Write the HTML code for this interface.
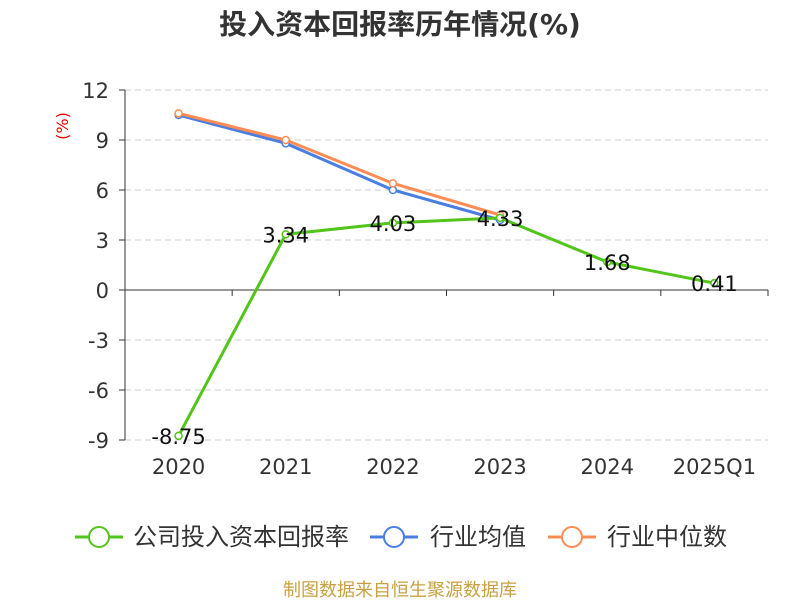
<!DOCTYPE html>
<html><head><meta charset="utf-8"><style>
body{margin:0;background:#fff;font-family:"DejaVu Sans","Noto Sans CJK SC",sans-serif}
</style></head><body>
<svg width="800" height="600" xmlns="http://www.w3.org/2000/svg" id="c" font-family="DejaVu Sans, Noto Sans CJK SC, sans-serif">
<text x="400" y="34" text-anchor="middle" font-size="28" font-weight="bold" fill="#333">投入资本回报率历年情况(%)</text>
<text x="68" y="126" text-anchor="middle" font-size="16" fill="#e00" transform="rotate(-90 68 126)">(%)</text>
<g id="grid"></g><g id="axes"></g><g id="series"></g>
<g font-size="24" fill="#333">
<g><line x1="75" y1="537" x2="123" y2="537" stroke="#52c41a" stroke-width="3"/><circle cx="99" cy="537" r="10" fill="#fff" stroke="#52c41a" stroke-width="2"/><text x="133" y="545">公司投入资本回报率</text></g>
<g><line x1="370" y1="537" x2="418" y2="537" stroke="#4a7ee0" stroke-width="3"/><circle cx="394" cy="537" r="10" fill="#fff" stroke="#4a7ee0" stroke-width="2"/><text x="430" y="545">行业均值</text></g>
<g><line x1="548" y1="537" x2="596" y2="537" stroke="#ff8c55" stroke-width="3"/><circle cx="572" cy="537" r="10" fill="#fff" stroke="#ff8c55" stroke-width="2"/><text x="607" y="545">行业中位数</text></g>
</g>
<text x="400" y="596" text-anchor="middle" font-size="18" fill="#c8a040">制图数据来自恒生聚源数据库</text>
</svg>
<script>
const categories=["2020","2021","2022","2023","2024","2025Q1"];
const company=[-8.75,3.34,4.03,4.33,1.68,0.41];
const industryAvg=[10.5,8.8,6.0,4.2];
const industryMedian=[10.6,9.0,6.4,4.5];
const yTicks=[12,9,6,3,0,-3,-6,-9];
const NS="http://www.w3.org/2000/svg";
const x0=125,x1=768,yTop=90,yBot=440,yMax=12,yMin=-9;
const bw=(x1-x0)/categories.length;
const xs=i=>x0+bw*(i+0.5);
const ys=v=>yTop+(yMax-v)/(yMax-yMin)*(yBot-yTop);
function mk(tag,attrs,parent,txt){const e=document.createElementNS(NS,tag);for(const k in attrs)e.setAttribute(k,attrs[k]);if(txt!==undefined)e.textContent=txt;parent.appendChild(e);return e;}
const grid=document.getElementById('grid'),axes=document.getElementById('axes'),ser=document.getElementById('series');
yTicks.forEach(t=>{
 const y=ys(t);
 if(t!==0){const g=mk('line',{x1:x0,x2:x1,y1:y,y2:y,stroke:'#ccc','stroke-dasharray':'6,4'},grid);
 
 }
 const tk=mk('line',{x1:x0-6,x2:x0,y1:y,y2:y,stroke:'#333'},axes);
 
 
 const l=mk('text',{x:x0-16,y:y+8,'text-anchor':'end','font-size':21,fill:'#333'},axes,String(t));
 
 
});
const ya=mk('line',{x1:x0,x2:x0,y1:yTop,y2:yBot,stroke:'#333'},axes);


const xa=mk('line',{x1:x0,x2:x1,y1:ys(0),y2:ys(0),stroke:'#333'},axes);


for(let i=0;i<=categories.length;i++){const t=mk('line',{x1:x0+bw*i,x2:x0+bw*i,y1:ys(0),y2:ys(0)+6,stroke:'#333'},axes);
 
 }
categories.forEach((c,i)=>{const t=mk('text',{x:xs(i),y:474,'text-anchor':'middle','font-size':21,fill:'#333'},axes,c);
 
 });
function line(data,color,name){
 const g=mk('g',{},ser);
 
 
 mk('polyline',{points:data.map((v,i)=>xs(i)+','+ys(v)).join(' '),fill:'none',stroke:color,'stroke-width':3},g);
 data.forEach((v,i)=>{const p=mk('circle',{cx:xs(i),cy:ys(v),r:3.5,fill:'#fff',stroke:color,'stroke-width':1.5},g);
 
 });
 return g;
}
line(industryAvg,'#4a7ee0','industry-avg-line');
line(industryMedian,'#ff8c55','industry-median-line');
const cg=line(company,'#52c41a','company-line');
company.forEach((v,i)=>{const t=mk('text',{x:xs(i),y:ys(v)+8,'text-anchor':'middle','font-size':21,fill:'#111'},cg,v.toFixed(2));
 
 });
</script>
</body></html>
